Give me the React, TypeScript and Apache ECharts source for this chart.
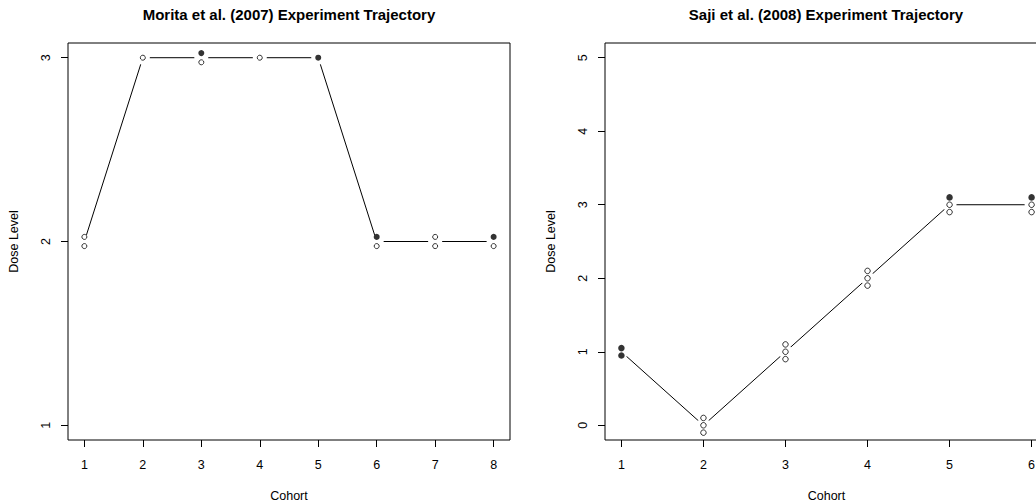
import React, { useEffect, useRef } from "react";
import * as echarts from "echarts";

// Morita et al. (2007): dose level given to each cohort and the outcome of
// each patient in that cohort, listed top to bottom (1 = toxicity, 0 = none).
const moritaCohorts = [1, 2, 3, 4, 5, 6, 7, 8];
const moritaDose = [2, 3, 3, 3, 3, 2, 2, 2];
const moritaOutcomes = [[0, 0], [0], [1, 0], [0], [1], [1, 0], [0, 0], [1, 0]];
const moritaDoseTicks = [1, 2, 3];

// Saji et al. (2008)
const sajiCohorts = [1, 2, 3, 4, 5, 6];
const sajiDose = [1, 0, 1, 2, 3, 3];
const sajiOutcomes = [[1, 1], [0, 0, 0], [0, 0, 0], [0, 0, 0], [1, 0, 0], [1, 0, 0]];
const sajiDoseTicks = [0, 1, 2, 3, 4, 5];

const FONT = "'Liberation Sans', Arial, Helvetica, sans-serif";

// Patients of one cohort are stacked around the cohort's dose level.
function patientPoints(cohorts: number[], dose: number[], outcomes: number[][], step: number, tox: number) {
  const pts: number[][] = [];
  cohorts.forEach((c, k) => {
    const n = outcomes[k].length;
    outcomes[k].forEach((o, i) => {
      if (o === tox) pts.push([c, dose[k] + ((n - 1) / 2 - i) * step]);
    });
  });
  return pts;
}

function axisPair(gridIndex: number, xMin: number, xMax: number, xTicks: number[], yMin: number, yMax: number, yTicks: number[]) {
  const labelStyle = { color: "#000", fontSize: 12.5, fontFamily: FONT };
  const x = {
    type: "value",
    gridIndex,
    min: xMin,
    max: xMax,
    name: "Cohort",
    nameLocation: "middle",
    nameGap: 49,
    nameTextStyle: { ...labelStyle, verticalAlign: "top" },
    axisLine: { show: false, onZero: false },
    axisTick: { show: true, length: 7, lineStyle: { color: "#000", width: 1 }, customValues: xTicks },
    axisLabel: { ...labelStyle, margin: 18, customValues: xTicks },
    splitLine: { show: false },
  };
  const y = {
    type: "value",
    gridIndex,
    min: yMin,
    max: yMax,
    name: "Dose Level",
    nameLocation: "middle",
    nameGap: 48,
    nameRotate: 90,
    nameTextStyle: labelStyle,
    axisLine: { show: false, onZero: false },
    axisTick: { show: true, length: 7, lineStyle: { color: "#000", width: 1 }, customValues: yTicks },
    axisLabel: { ...labelStyle, margin: 16, rotate: 90, customValues: yTicks },
    splitLine: { show: false },
  };
  return { x, y };
}

function trajectorySeries(idx: number, cohorts: number[], dose: number[], outcomes: number[][], step: number, size: number) {
  return [
    {
      type: "line",
      xAxisIndex: idx,
      yAxisIndex: idx,
      data: cohorts.map((c, k) => [c, dose[k]]),
      symbol: "circle",
      symbolSize: 14,
      showAllSymbol: true,
      itemStyle: { color: "#fff", borderWidth: 0 },
      lineStyle: { color: "#000", width: 1 },
      z: 2,
      silent: true,
    },
    {
      type: "scatter",
      xAxisIndex: idx,
      yAxisIndex: idx,
      data: patientPoints(cohorts, dose, outcomes, step, 0),
      symbol: "circle",
      symbolSize: size,
      itemStyle: { color: "#fff", borderColor: "#000", borderWidth: 1 },
      z: 3,
    },
    {
      type: "scatter",
      xAxisIndex: idx,
      yAxisIndex: idx,
      data: patientPoints(cohorts, dose, outcomes, step, 1),
      symbol: "circle",
      symbolSize: size + 1,
      itemStyle: { color: "#000", borderColor: "#000", borderWidth: 0 },
      z: 3,
    },
  ];
}

export default function App() {
  const ref = useRef<HTMLDivElement>(null);

  useEffect(() => {
    if (!ref.current) return;
    const chart = echarts.init(ref.current, null, { renderer: "svg" });

    const left = axisPair(0, 0.72, 8.28, moritaCohorts, 0.92, 3.08, moritaDoseTicks);
    const right = axisPair(1, 0.8, 6.2, sajiCohorts, -0.2, 5.2, sajiDoseTicks);

    const titleStyle = { fill: "#000", font: `bold 15px ${FONT}`, align: "center", verticalAlign: "middle" };
    const gridBase = {
      top: 43,
      height: 397,
      show: true,
      borderColor: "#000",
      borderWidth: 1,
      backgroundColor: "transparent",
      containLabel: false,
      outerBoundsMode: "none",
    };

    chart.setOption({
      animation: false,
      backgroundColor: "#fff",
      grid: [
        { ...gridBase, left: 68, width: 442 },
        { ...gridBase, left: 605, width: 443 },
      ],
      xAxis: [left.x, right.x],
      yAxis: [left.y, right.y],
      graphic: [
        { type: "text", x: 289, y: 14, style: { ...titleStyle, text: "Morita et al. (2007) Experiment Trajectory" } },
        { type: "text", x: 826, y: 14, style: { ...titleStyle, text: "Saji et al. (2008) Experiment Trajectory" } },
      ],
      series: [
        ...trajectorySeries(0, moritaCohorts, moritaDose, moritaOutcomes, 0.05, 5),
        ...trajectorySeries(1, sajiCohorts, sajiDose, sajiOutcomes, 0.1, 5.5),
      ],
    });

    return () => chart.dispose();
  }, []);

  return (
    <div
      ref={ref}
      style={{ position: "fixed", left: 0, top: 0, width: 1036, height: 501, overflow: "hidden" }}
    />
  );
}
